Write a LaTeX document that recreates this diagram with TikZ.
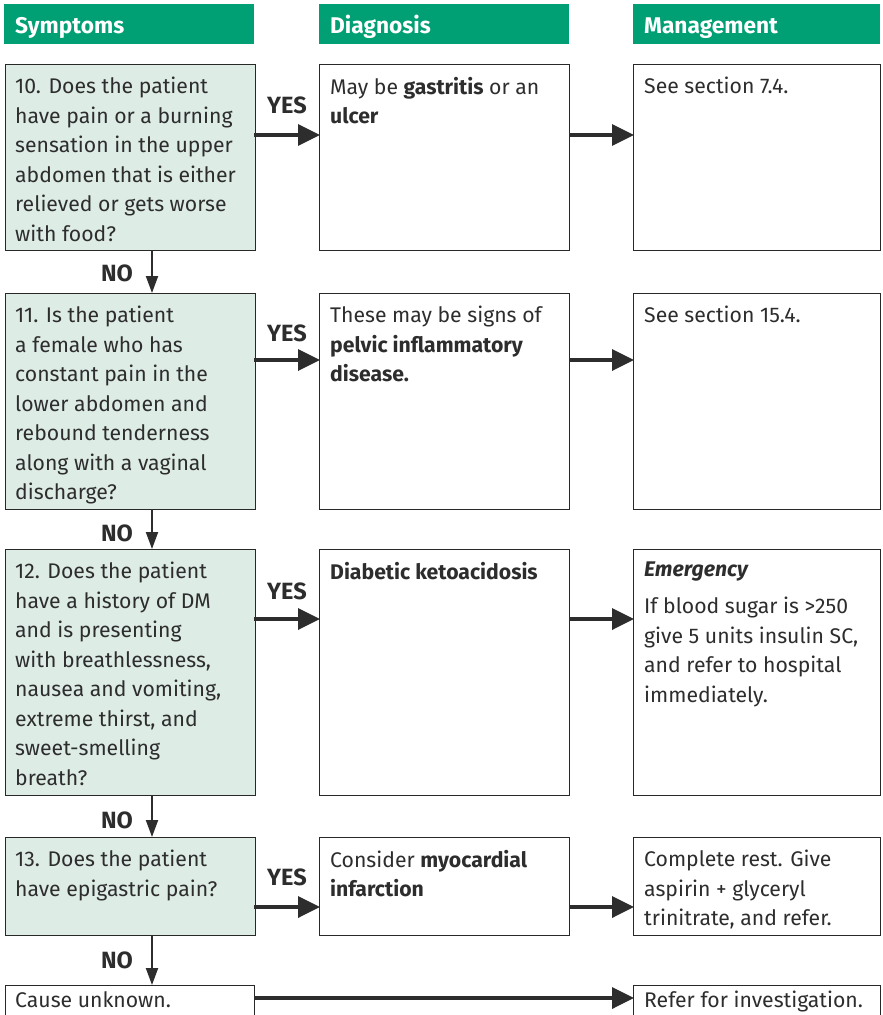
\documentclass[tikz,border=0pt]{standalone}
\usepackage{fontspec}
\setmainfont{Fira Sans}
\usetikzlibrary{arrows.meta}
\definecolor{headgreen}{RGB}{0,160,116}
\definecolor{qfill}{RGB}{222,236,230}
\definecolor{edge}{RGB}{40,40,40}
\definecolor{ink}{RGB}{45,45,45}
\tikzset{
  head/.style={fill=headgreen, draw=none, anchor=north west, inner sep=0pt, outer sep=0pt},
  headtext/.style={anchor=base west, text=white, font=\fontsize{22.7}{26}\selectfont\bfseries, inner sep=0pt},
  qbox/.style={draw=edge, line width=1pt, fill=qfill, anchor=north west, inner sep=0pt, outer sep=0pt, minimum width=250pt},
  abox/.style={draw=edge, line width=1pt, fill=white, anchor=north west, inner sep=0pt, outer sep=0pt},
  txt/.style={anchor=north west, inner sep=0pt, align=left, text=ink, font=\fontsize{21.2}{29.5}\selectfont},
  lbl/.style={text=ink, font=\fontsize{23.5}{26}\selectfont\bfseries, inner sep=0pt},
  yes/.style={line width=3.5pt, draw=ink, -{Triangle[length=22pt, width=21pt]}, shorten >=-1pt},
  no/.style={line width=2pt, draw=ink, -{Triangle[length=17pt, width=12pt]}},
}
\begin{document}
\begin{tikzpicture}[x=1pt, y=-1pt]
\useasboundingbox (0,0) rectangle (883,1015);
\clip (0,0) rectangle (883,1015);
\fill[white] (0,0) rectangle (883,1015);

% column headers
\node[head, minimum width=250pt, minimum height=40pt] (h1) at (4,4) {};
\node[head, minimum width=250pt, minimum height=40pt] (h2) at (319,4) {};
\node[head, minimum width=247pt, minimum height=40pt] (h3) at (633,4) {};
\node[headtext] (h1t) at (15,33) {Symptoms};
\node[headtext] (h2t) at (330,33) {Diagnosis};
\node[headtext] (h3t) at (644,33) {Management};

% row 1
\node[qbox, minimum height=186pt] (q1) at (5,64) {};
\node[abox, minimum width=250pt, minimum height=186pt] (d1) at (319,64) {};
\node[abox, minimum width=247pt, minimum height=186pt] (m1) at (633,64) {};
\node[txt] (q1t) at (15,77) {10. Does the patient\\have pain or a burning\\sensation in the upper\\abdomen that is either\\relieved or gets worse\\with food?};
\node[txt] (d1t) at (330,77) {May be \textbf{gastritis} or an\\\textbf{ulcer}};
\node[txt] (m1t) at (644,77) {See section 7.4.};

% row 2
\node[qbox, minimum height=216pt] (q2) at (5,293) {};
\node[abox, minimum width=250pt, minimum height=216pt] (d2) at (319,293) {};
\node[abox, minimum width=247pt, minimum height=216pt] (m2) at (633,293) {};
\node[txt] (q2t) at (15,306) {11. Is the patient\\a female who has\\constant pain in the\\lower abdomen and\\rebound tenderness\\along with a vaginal\\discharge?};
\node[txt] (d2t) at (330,306) {These may be signs of\\\textbf{pelvic inflammatory}\\\textbf{disease.}};
\node[txt] (m2t) at (644,306) {See section 15.4.};

% row 3
\node[qbox, minimum height=246pt] (q3) at (5,549) {};
\node[abox, minimum width=250pt, minimum height=246pt] (d3) at (319,549) {};
\node[abox, minimum width=247pt, minimum height=246pt] (m3) at (633,549) {};
\node[txt] (q3t) at (15,562) {12. Does the patient\\have a history of DM\\and is presenting\\with breathlessness,\\nausea and vomiting,\\extreme thirst, and\\sweet-smelling\\breath?};
\node[txt] (d3t) at (330,562) {\textbf{Diabetic ketoacidosis}};
\node[txt] (m3e) at (644,562) {\textbf{\textit{Emergency}}};
\node[txt] (m3t) at (644,597) {If blood sugar is >250\\give 5 units insulin SC,\\and refer to hospital\\immediately.};

% row 4
\node[qbox, minimum height=98pt] (q4) at (5,837) {};
\node[abox, minimum width=250pt, minimum height=98pt] (d4) at (319,837) {};
\node[abox, minimum width=247pt, minimum height=98pt] (m4) at (633,837) {};
\node[txt] (q4t) at (15,850) {13. Does the patient\\have epigastric pain?};
\node[txt] (d4t) at (330,850) {Consider \textbf{myocardial}\\\textbf{infarction}};
\node[txt] (m4t) at (644,850) {Complete rest. Give\\aspirin + glyceryl\\trinitrate, and refer.};

% row 5
\node[abox, minimum width=249pt, minimum height=60pt] (q5) at (5,985) {};
\node[abox, minimum width=247pt, minimum height=60pt] (m5) at (633,985) {};
\node[txt] (q5t) at (15,991) {Cause unknown.};
\node[txt] (m5t) at (644,991) {Refer for investigation.};

% YES connectors
\foreach \r/\y in {1/135, 2/360, 3/619, 4/907} {
  \coordinate (ya\r) at (254,\y);
  \coordinate (yb\r) at (319,\y);
  \coordinate (yc\r) at (569,\y);
  \coordinate (yd\r) at (633,\y);
  \draw[yes] (ya\r) -- (yb\r);
  \draw[yes] (yc\r) -- (yd\r);
}
\node[lbl] (y1) at (287,105) {YES};
\node[lbl] (y2) at (287,333) {YES};
\node[lbl] (y3) at (287,591) {YES};
\node[lbl] (y4) at (287,877) {YES};

% bottom row connector
\coordinate (ca) at (254,998);
\coordinate (cb) at (633,998);
\draw[yes] (ca) -- (cb);

% NO connectors
\draw[no] (q1.south -| 152,0) -- (q2.north -| 152,0);
\draw[no] (q2.south -| 152,0) -- (q3.north -| 152,0);
\draw[no] (q3.south -| 152,0) -- (q4.north -| 152,0);
\draw[no] (q4.south -| 152,0) -- (q5.north -| 152,0);
\node[lbl] (n1) at (117,273) {NO};
\node[lbl] (n2) at (117,533) {NO};
\node[lbl] (n3) at (117,820) {NO};
\node[lbl] (n4) at (117,960) {NO};
\end{tikzpicture}
\end{document}
